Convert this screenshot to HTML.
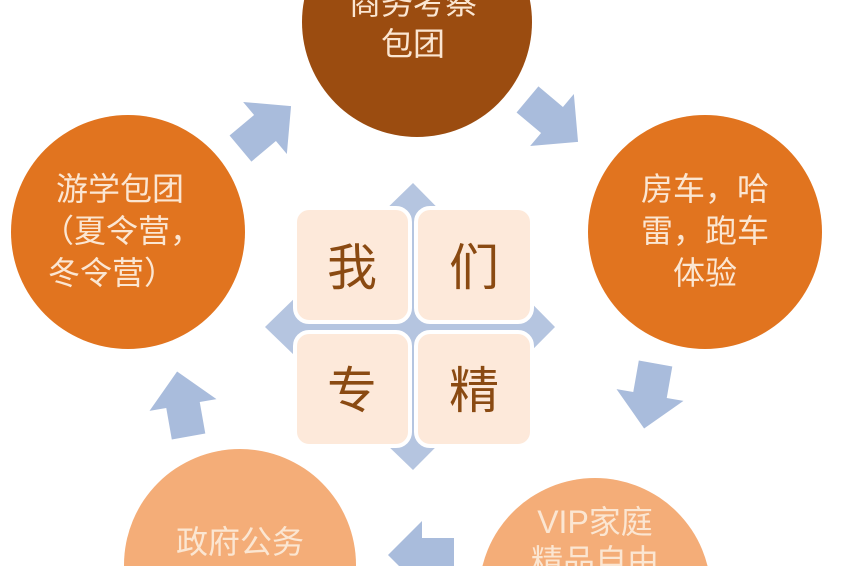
<!DOCTYPE html>
<html><head><meta charset="utf-8"><style>
html,body{margin:0;width:848px;height:566px;overflow:hidden;background:#fff;font-family:"Liberation Sans","Noto Sans CJK SC",sans-serif}
svg{display:block}
</style></head><body>
<svg width="848" height="566" viewBox="0 0 848 566" xmlns="http://www.w3.org/2000/svg" font-family="Liberation Sans, Noto Sans CJK SC, sans-serif">
<defs>
<polygon id="ar" points="-32,-17 0,-17 0,-34 34,0 0,34 0,17 -32,17" fill="#a9bcdc"/>
</defs>
<circle cx="417" cy="22" r="115" fill="#9b4c10"/>
<circle cx="128" cy="232" r="117" fill="#e1741f"/>
<circle cx="705" cy="232" r="117" fill="#e1741f"/>
<circle cx="240" cy="565" r="116" fill="#f4ad78"/>
<circle cx="595" cy="594" r="116" fill="#f4ad78"/>
<use href="#ar" transform="translate(265,128) rotate(-40)"/>
<use href="#ar" transform="translate(552,120) rotate(40)"/>
<use href="#ar" transform="translate(650,395) rotate(100)"/>
<use href="#ar" transform="translate(183,405) rotate(-100)"/>
<use href="#ar" transform="translate(422,555) rotate(180)"/>
<polygon points="413,183 555,327 413,470 265,327" fill="#b5c5e0"/>
<rect x="295" y="208" width="115" height="114" rx="14" fill="#fde9da" stroke="#fff" stroke-width="4"/>
<rect x="416" y="208" width="116" height="114" rx="14" fill="#fde9da" stroke="#fff" stroke-width="4"/>
<rect x="295" y="332" width="115" height="114" rx="14" fill="#fde9da" stroke="#fff" stroke-width="4"/>
<rect x="416" y="332" width="116" height="114" rx="14" fill="#fde9da" stroke="#fff" stroke-width="4"/>
<g fill="#8a4a12" font-size="50" text-anchor="middle">
<text x="352" y="285">我</text><text x="474" y="285">们</text>
<text x="352" y="408">专</text><text x="474" y="408">精</text>
</g>
<g fill="#fbe6d2" font-size="32" text-anchor="middle">
<text x="413" y="14">商务考察</text>
<text x="413" y="55">包团</text>
<text x="120" y="200">游学包团</text>
<text x="122" y="242">（夏令营，</text>
<text x="112" y="284">冬令营）</text>
<text x="705" y="200">房车，哈</text>
<text x="705" y="242">雷，跑车</text>
<text x="705" y="284">体验</text>
<text x="240" y="553">政府公务</text>
<text x="595" y="533">VIP家庭</text>
<text x="595" y="572">精品自由</text>
</g>
</svg>
</body></html>
